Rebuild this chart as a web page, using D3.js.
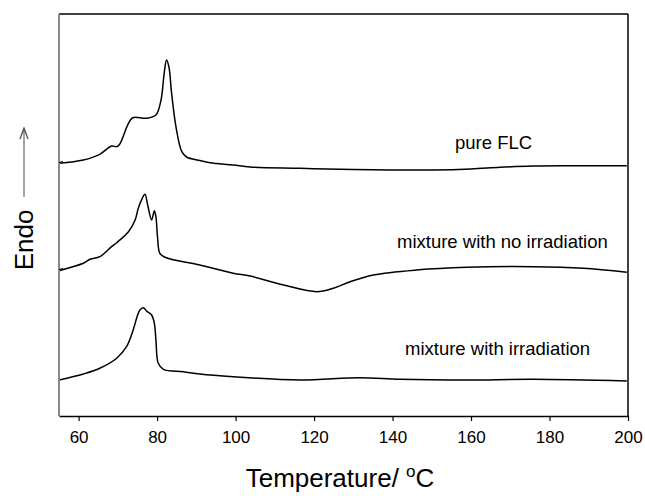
<!DOCTYPE html>
<html><head><meta charset="utf-8">
<script src="https://cdn.jsdelivr.net/npm/d3@7"></script>
<style>body{margin:0;background:#fff}svg{display:block}text{font-family:"Liberation Sans",Arial,sans-serif}</style>
</head><body><svg id="c" width="645" height="496"></svg>
<script>
const xTicks = [60, 80, 100, 120, 140, 160, 180, 200];
const seriesNames = ["pure FLC", "mixture with no irradiation", "mixture with irradiation"];
const pureT = [55, 61.2, 65.4, 68.4, 69.7, 70.5, 72.7, 73.8, 77.3, 79.7, 81.0, 81.8, 82.4, 83.0, 83.7, 84.8, 86.3, 87.5, 90.9, 93.5, 99.4, 103.7, 116.4, 130, 150.3, 160, 167.4, 175.8, 185, 199.7];
const pureV = [249.7, 253, 258.7, 267, 266.3, 269, 289.7, 295.3, 294.7, 298, 313, 339.7, 353, 346.3, 319.7, 286.3, 261.3, 256, 252.5, 250.3, 248, 246, 244.7, 243.5, 243, 244, 245.7, 247, 247.3, 247.3];
const noIrrT = [55, 61.2, 62.9, 65.4, 68.4, 69.7, 72.7, 74.4, 75.2, 76.1, 76.9, 77.6, 78.6, 79.3, 79.7, 80.1, 80.7, 82.0, 90.9, 99.4, 103.7, 112.2, 120.7, 124.9, 129.2, 135.1, 146.1, 158.9, 175.9, 188.6, 199.7];
const noIrrV = [142.3, 149.7, 153.7, 156.3, 166.3, 170.3, 181.3, 193, 204.7, 213.7, 218.7, 208, 193, 202.3, 196.3, 176.3, 159.7, 155.7, 148, 139.7, 137, 128, 121.3, 124.7, 131.3, 138, 143, 145.7, 146.3, 144.7, 140.7];
const irrT = [55, 61.2, 65.4, 69.7, 72.2, 73.9, 74.9, 75.6, 76.5, 77.3, 78.6, 79.3, 79.7, 80.3, 81.6, 86.7, 90.9, 99.4, 116.4, 131.7, 141.9, 158.9, 175.9, 199.7];
const irrV = [33, 39, 44.7, 54.7, 66.3, 83, 96.3, 103, 105.3, 102, 98, 89.7, 73, 49.7, 43.7, 41.3, 39, 36.3, 33, 35.3, 33.7, 33, 33.7, 32];

const L = 59, R = 628, T = 14, B = 416;
const svg = d3.select("#c");
const x = d3.scaleLinear().domain([55, 200]).range([L, R]);
const y = d3.scaleLinear().domain([-3, 399]).range([B, T]);

const line = d3.line().x(d => x(d[0])).y(d => y(d[1])).curve(d3.curveCatmullRom.alpha(0.5));
const series = [[pureT, pureV], [noIrrT, noIrrV], [irrT, irrV]];
series.forEach(([ts, vs]) => {
  svg.append("path").datum(ts.map((t, i) => [t, vs[i]]))
    .attr("d", line).attr("fill", "none").attr("stroke", "#000").attr("stroke-width", 1.5);
});

// frame
svg.append("line").attr("x1", L).attr("x2", R).attr("y1", T).attr("y2", T).attr("stroke", "#000").attr("stroke-width", 1.5);
svg.append("line").attr("x1", R).attr("x2", R).attr("y1", T).attr("y2", B).attr("stroke", "#000").attr("stroke-width", 1.5);
svg.append("line").attr("x1", L).attr("x2", L).attr("y1", T).attr("y2", B).attr("stroke", "#888").attr("stroke-width", 2);

const ax = svg.append("g").attr("transform", `translate(0,${B})`)
  .call(d3.axisBottom(x).tickValues(xTicks).tickSize(5).tickPadding(10).tickSizeOuter(0));
ax.select(".domain").attr("stroke", "#000").attr("stroke-width", 1.5);
ax.selectAll(".tick line").attr("stroke", "#000").attr("stroke-width", 1.2);
ax.selectAll(".tick text").attr("font-size", 17).attr("fill", "#000").attr("font-family", "Liberation Sans, Arial, sans-serif");

// small marks on left axis
[y(251), y(144)].forEach(py => {
  svg.append("line").attr("x1", L).attr("x2", L + 4).attr("y1", py + 0.5).attr("y2", py - 0.5).attr("stroke", "#000").attr("stroke-width", 1);
});

// labels
const lbl = [[455, 149], [397, 248], [405, 355]];
seriesNames.forEach((n, i) => {
  svg.append("text").attr("x", lbl[i][0]).attr("y", lbl[i][1]).attr("font-size", 18.5).attr("fill", "#000").text(n);
});

svg.append("text").attr("x", 340).attr("y", 487).attr("text-anchor", "middle").attr("font-size", 26).attr("fill", "#000")
  .html('Temperature/ <tspan font-size="17" dy="-10">o</tspan><tspan dy="10">C</tspan>');

svg.append("text").attr("transform", "translate(33,240) rotate(-90)").attr("text-anchor", "middle").attr("font-size", 26).attr("fill", "#000").text("Endo");

// arrow
svg.append("line").attr("x1", 24).attr("x2", 24).attr("y1", 197).attr("y2", 129).attr("stroke", "#666").attr("stroke-width", 1.2);
svg.append("path").attr("d", "M20,139 L24,128 L28,139").attr("fill", "none").attr("stroke", "#444").attr("stroke-width", 1.2);
</script></body></html>
